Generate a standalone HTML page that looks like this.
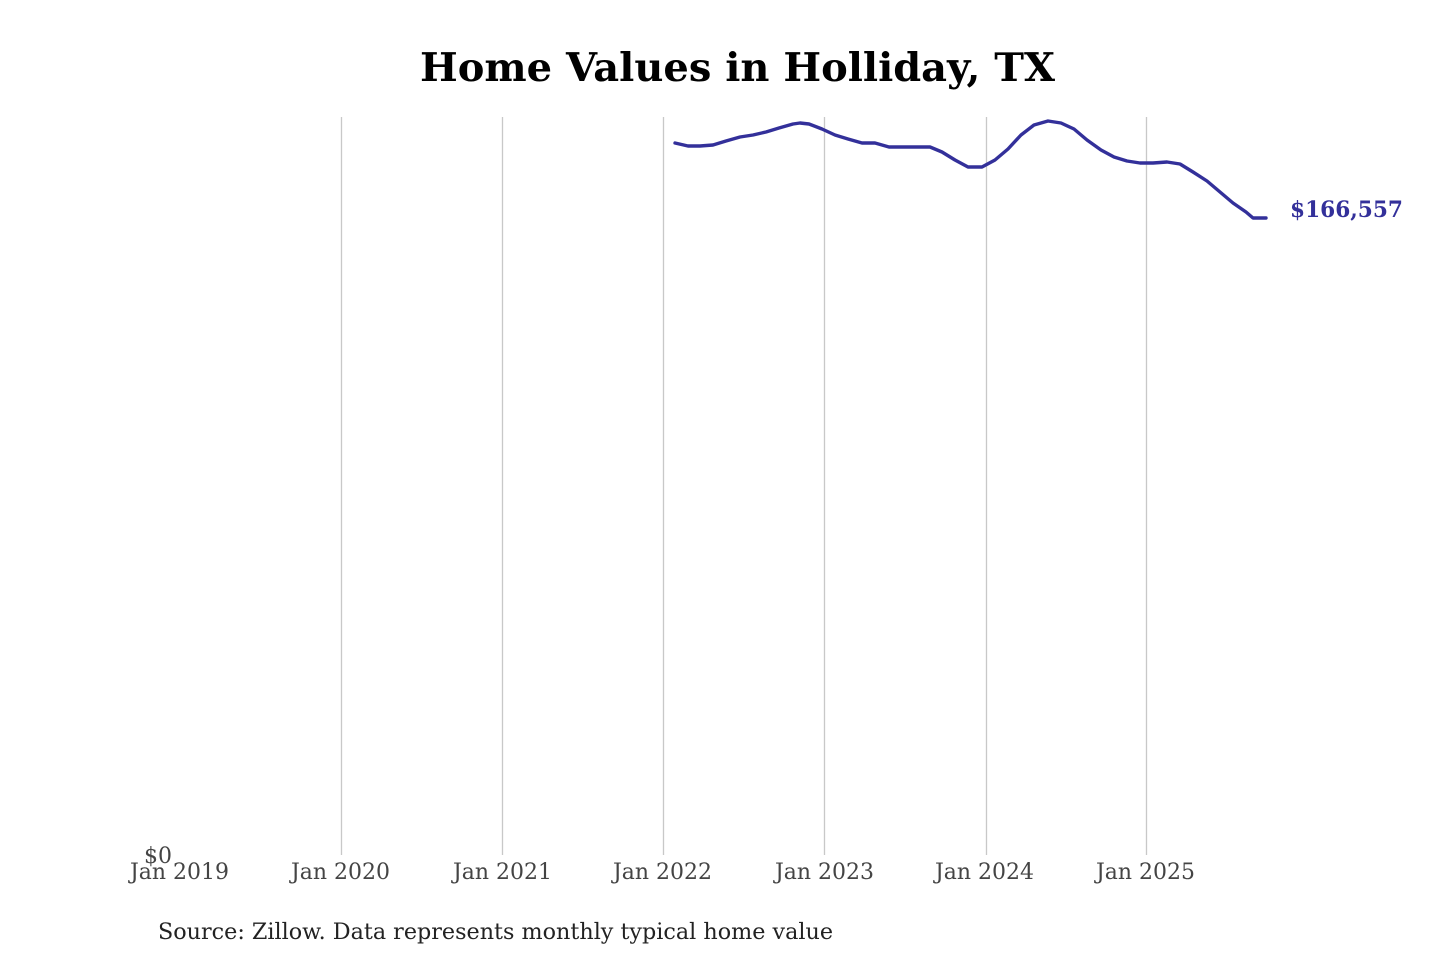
<!DOCTYPE html>
<html><head><meta charset="utf-8"><style>
html,body{margin:0;padding:0;background:#fff;}
svg{display:block;}
</style></head><body>
<svg width="1440" height="960" viewBox="0 0 1440 960" xmlns="http://www.w3.org/2000/svg">
<rect width="1440" height="960" fill="#fff"/>
<text x="420" y="81" textLength="635" lengthAdjust="spacingAndGlyphs" font-family="DejaVu Serif, Liberation Serif, serif" font-weight="bold" font-size="39" fill="#000">Home Values in Holliday, TX</text>
<g stroke="#c8c8c8" stroke-width="1.3">
<line x1="341.5" y1="117" x2="341.5" y2="855"/>
<line x1="502.5" y1="117" x2="502.5" y2="855"/>
<line x1="663.5" y1="117" x2="663.5" y2="855"/>
<line x1="824.5" y1="117" x2="824.5" y2="855"/>
<line x1="986.5" y1="117" x2="986.5" y2="855"/>
<line x1="1146.5" y1="117" x2="1146.5" y2="855"/>
</g>
<polyline fill="none" stroke="#33309a" stroke-width="3.4" stroke-linejoin="round" stroke-linecap="round"
points="675,143 688,146 700,146 713,145 726,141 740,137 753,135 766,132 779,128 793,124 800,123 809,124 822,129 835,135 848,139 862,143 875,143 889,147 902,147 915,147 930,147 942,152 955,160 968,167 982,167 995,160 1008,149 1021,135 1034,125 1048,121 1061,123 1074,129 1087,140 1101,150 1114,157 1127,161 1140,163 1153,163 1167,162 1180,164 1193,172 1207,181 1220,192 1233,203 1246,212 1253,218 1266,218"/>
<text x="1290" y="217" textLength="113" lengthAdjust="spacingAndGlyphs" font-family="DejaVu Serif, Liberation Serif, serif" font-weight="bold" font-size="22" fill="#33309a">$166,557</text>
<g font-family="DejaVu Serif, Liberation Serif, serif" font-size="22" fill="#444">
<text x="144" y="863">$0</text>
<text x="130" y="879" textLength="99" lengthAdjust="spacingAndGlyphs">Jan 2019</text>
<text x="291" y="879" textLength="99" lengthAdjust="spacingAndGlyphs">Jan 2020</text>
<text x="453" y="879" textLength="99" lengthAdjust="spacingAndGlyphs">Jan 2021</text>
<text x="613" y="879" textLength="99" lengthAdjust="spacingAndGlyphs">Jan 2022</text>
<text x="775" y="879" textLength="99" lengthAdjust="spacingAndGlyphs">Jan 2023</text>
<text x="935" y="879" textLength="99" lengthAdjust="spacingAndGlyphs">Jan 2024</text>
<text x="1096" y="879" textLength="99" lengthAdjust="spacingAndGlyphs">Jan 2025</text>
</g>
<text x="158" y="939" textLength="675" lengthAdjust="spacingAndGlyphs" font-family="DejaVu Serif, Liberation Serif, serif" font-size="22" fill="#222">Source: Zillow. Data represents monthly typical home value</text>
</svg>
</body></html>
